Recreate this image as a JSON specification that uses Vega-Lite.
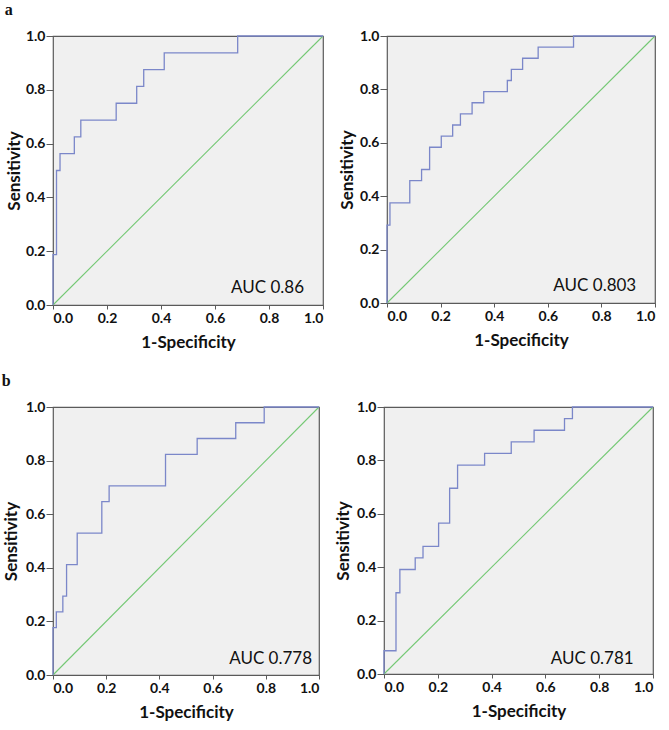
{
  "$schema": "https://vega.github.io/schema/vega-lite/v6.json",
  "padding": {"left": 1, "top": 2, "right": 2, "bottom": 2},
  "background": "white",
  "datasets": {
    "roc": [
      {"p":1,"i":0,"fpr":0,"tpr":0},{"p":1,"i":1,"fpr":0,"tpr":0.1875},{"p":1,"i":2,"fpr":0.013,"tpr":0.1875},{"p":1,"i":3,"fpr":0.013,"tpr":0.5},{"p":1,"i":4,"fpr":0.026,"tpr":0.5},{"p":1,"i":5,"fpr":0.026,"tpr":0.5625},{"p":1,"i":6,"fpr":0.079,"tpr":0.5625},{"p":1,"i":7,"fpr":0.079,"tpr":0.625},{"p":1,"i":8,"fpr":0.103,"tpr":0.625},{"p":1,"i":9,"fpr":0.103,"tpr":0.6875},{"p":1,"i":10,"fpr":0.234,"tpr":0.6875},{"p":1,"i":11,"fpr":0.234,"tpr":0.75},{"p":1,"i":12,"fpr":0.31,"tpr":0.75},{"p":1,"i":13,"fpr":0.31,"tpr":0.8125},{"p":1,"i":14,"fpr":0.336,"tpr":0.8125},{"p":1,"i":15,"fpr":0.336,"tpr":0.875},{"p":1,"i":16,"fpr":0.412,"tpr":0.875},{"p":1,"i":17,"fpr":0.412,"tpr":0.9375},{"p":1,"i":18,"fpr":0.684,"tpr":0.9375},{"p":1,"i":19,"fpr":0.684,"tpr":1},{"p":1,"i":20,"fpr":1,"tpr":1},
      {"p":2,"i":0,"fpr":0,"tpr":0},{"p":2,"i":1,"fpr":0,"tpr":0.2917},{"p":2,"i":2,"fpr":0.011,"tpr":0.2917},{"p":2,"i":3,"fpr":0.011,"tpr":0.375},{"p":2,"i":4,"fpr":0.085,"tpr":0.375},{"p":2,"i":5,"fpr":0.085,"tpr":0.4583},{"p":2,"i":6,"fpr":0.129,"tpr":0.4583},{"p":2,"i":7,"fpr":0.129,"tpr":0.5},{"p":2,"i":8,"fpr":0.159,"tpr":0.5},{"p":2,"i":9,"fpr":0.159,"tpr":0.5833},{"p":2,"i":10,"fpr":0.2025,"tpr":0.5833},{"p":2,"i":11,"fpr":0.2025,"tpr":0.625},{"p":2,"i":12,"fpr":0.245,"tpr":0.625},{"p":2,"i":13,"fpr":0.245,"tpr":0.6667},{"p":2,"i":14,"fpr":0.274,"tpr":0.6667},{"p":2,"i":15,"fpr":0.274,"tpr":0.7083},{"p":2,"i":16,"fpr":0.3175,"tpr":0.7083},{"p":2,"i":17,"fpr":0.3175,"tpr":0.75},{"p":2,"i":18,"fpr":0.361,"tpr":0.75},{"p":2,"i":19,"fpr":0.361,"tpr":0.7917},{"p":2,"i":20,"fpr":0.449,"tpr":0.7917},{"p":2,"i":21,"fpr":0.449,"tpr":0.8333},{"p":2,"i":22,"fpr":0.464,"tpr":0.8333},{"p":2,"i":23,"fpr":0.464,"tpr":0.875},{"p":2,"i":24,"fpr":0.506,"tpr":0.875},{"p":2,"i":25,"fpr":0.506,"tpr":0.9167},{"p":2,"i":26,"fpr":0.564,"tpr":0.9167},{"p":2,"i":27,"fpr":0.564,"tpr":0.9583},{"p":2,"i":28,"fpr":0.696,"tpr":0.9583},{"p":2,"i":29,"fpr":0.696,"tpr":1},{"p":2,"i":30,"fpr":1,"tpr":1},
      {"p":3,"i":0,"fpr":0,"tpr":0},{"p":3,"i":1,"fpr":0,"tpr":0.1765},{"p":3,"i":2,"fpr":0.0125,"tpr":0.1765},{"p":3,"i":3,"fpr":0.0125,"tpr":0.2353},{"p":3,"i":4,"fpr":0.037,"tpr":0.2353},{"p":3,"i":5,"fpr":0.037,"tpr":0.2941},{"p":3,"i":6,"fpr":0.051,"tpr":0.2941},{"p":3,"i":7,"fpr":0.051,"tpr":0.4118},{"p":3,"i":8,"fpr":0.091,"tpr":0.4118},{"p":3,"i":9,"fpr":0.091,"tpr":0.5294},{"p":3,"i":10,"fpr":0.1835,"tpr":0.5294},{"p":3,"i":11,"fpr":0.1835,"tpr":0.6471},{"p":3,"i":12,"fpr":0.211,"tpr":0.6471},{"p":3,"i":13,"fpr":0.211,"tpr":0.7059},{"p":3,"i":14,"fpr":0.423,"tpr":0.7059},{"p":3,"i":15,"fpr":0.423,"tpr":0.8235},{"p":3,"i":16,"fpr":0.542,"tpr":0.8235},{"p":3,"i":17,"fpr":0.542,"tpr":0.8824},{"p":3,"i":18,"fpr":0.687,"tpr":0.8824},{"p":3,"i":19,"fpr":0.687,"tpr":0.9412},{"p":3,"i":20,"fpr":0.794,"tpr":0.9412},{"p":3,"i":21,"fpr":0.794,"tpr":1},{"p":3,"i":22,"fpr":1,"tpr":1},
      {"p":4,"i":0,"fpr":0,"tpr":0},{"p":4,"i":1,"fpr":0,"tpr":0.087},{"p":4,"i":2,"fpr":0.0446,"tpr":0.087},{"p":4,"i":3,"fpr":0.0446,"tpr":0.3043},{"p":4,"i":4,"fpr":0.059,"tpr":0.3043},{"p":4,"i":5,"fpr":0.059,"tpr":0.3913},{"p":4,"i":6,"fpr":0.116,"tpr":0.3913},{"p":4,"i":7,"fpr":0.116,"tpr":0.4348},{"p":4,"i":8,"fpr":0.145,"tpr":0.4348},{"p":4,"i":9,"fpr":0.145,"tpr":0.4783},{"p":4,"i":10,"fpr":0.203,"tpr":0.4783},{"p":4,"i":11,"fpr":0.203,"tpr":0.5652},{"p":4,"i":12,"fpr":0.244,"tpr":0.5652},{"p":4,"i":13,"fpr":0.244,"tpr":0.6957},{"p":4,"i":14,"fpr":0.2735,"tpr":0.6957},{"p":4,"i":15,"fpr":0.2735,"tpr":0.7826},{"p":4,"i":16,"fpr":0.374,"tpr":0.7826},{"p":4,"i":17,"fpr":0.374,"tpr":0.8261},{"p":4,"i":18,"fpr":0.473,"tpr":0.8261},{"p":4,"i":19,"fpr":0.473,"tpr":0.8696},{"p":4,"i":20,"fpr":0.558,"tpr":0.8696},{"p":4,"i":21,"fpr":0.558,"tpr":0.913},{"p":4,"i":22,"fpr":0.671,"tpr":0.913},{"p":4,"i":23,"fpr":0.671,"tpr":0.9565},{"p":4,"i":24,"fpr":0.7005,"tpr":0.9565},{"p":4,"i":25,"fpr":0.7005,"tpr":1},{"p":4,"i":26,"fpr":1,"tpr":1}
    ],
    "diag": [{"fpr":0,"tpr":0},{"fpr":1,"tpr":1}],
    "auc": [
      {"p":1,"label":"AUC 0.86"},
      {"p":2,"label":"AUC 0.803"},
      {"p":3,"label":"AUC 0.778"},
      {"p":4,"label":"AUC 0.781"}
    ]
  },
  "config": {
    "view": {"fill": "#f0f0f0", "stroke": "#5a5a5a", "strokeWidth": 1.2},
    "axis": {
      "grid": false,
      "domain": false,
      "tickColor": "#5a5a5a",
      "labelFont": "Lato",
      "labelFontWeight": "bold",
      "labelFontSize": 14,
      "labelColor": "#111",
      "titleFont": "Lato",
      "titleFontWeight": "bold",
      "titleFontSize": 17,
      "titleColor": "#111"
    },
    "axisX": {"tickSize": 4, "labelPadding": 2, "titlePadding": 9},
    "axisY": {"tickSize": 7, "labelPadding": 1, "titlePadding": 2},
    "title": {"font": "Liberation Serif", "fontWeight": "bold", "fontSize": 16, "anchor": "start", "color": "#111", "offset": 10},
    "concat": {"spacing": 10}
  },
  "vconcat": [
    {
      "title": {"text": "a"},
      "spacing": 10,
      "hconcat": [
        {
          "width": 270, "height": 269,
          "layer": [
            {"data": {"name": "diag"}, "mark": {"type": "line", "color": "#74c874", "strokeWidth": 1.1}, "encoding": {"x": {"field": "fpr", "type": "quantitative"}, "y": {"field": "tpr", "type": "quantitative"}}},
            {"data": {"name": "roc"}, "transform": [{"filter": "datum.p == 1"}], "mark": {"type": "line", "color": "#7b87c9", "strokeWidth": 1.3}, "encoding": {"x": {"field": "fpr", "type": "quantitative", "scale": {"domain": [0, 1], "nice": false}, "axis": {"values": [0, 0.2, 0.4, 0.6, 0.8, 1], "format": ".1f", "title": "1-Specificity"}}, "y": {"field": "tpr", "type": "quantitative", "scale": {"domain": [0, 1], "nice": false}, "axis": {"values": [0, 0.2, 0.4, 0.6, 0.8, 1], "format": ".1f", "title": "Sensitivity"}}, "order": {"field": "i"}}},
            {"data": {"name": "auc"}, "transform": [{"filter": "datum.p == 1"}], "mark": {"type": "text", "align": "right", "baseline": "middle", "font": "Lato", "fontSize": 17, "color": "#111"}, "encoding": {"x": {"datum": 0.93, "type": "quantitative"}, "y": {"datum": 0.065, "type": "quantitative"}, "text": {"field": "label"}}}
          ]
        },
        {
          "width": 268, "height": 267,
          "layer": [
            {"data": {"name": "diag"}, "mark": {"type": "line", "color": "#74c874", "strokeWidth": 1.1}, "encoding": {"x": {"field": "fpr", "type": "quantitative"}, "y": {"field": "tpr", "type": "quantitative"}}},
            {"data": {"name": "roc"}, "transform": [{"filter": "datum.p == 2"}], "mark": {"type": "line", "color": "#7b87c9", "strokeWidth": 1.3}, "encoding": {"x": {"field": "fpr", "type": "quantitative", "scale": {"domain": [0, 1], "nice": false}, "axis": {"values": [0, 0.2, 0.4, 0.6, 0.8, 1], "format": ".1f", "title": "1-Specificity"}}, "y": {"field": "tpr", "type": "quantitative", "scale": {"domain": [0, 1], "nice": false}, "axis": {"values": [0, 0.2, 0.4, 0.6, 0.8, 1], "format": ".1f", "title": "Sensitivity", "titlePadding": 3}}, "order": {"field": "i"}}},
            {"data": {"name": "auc"}, "transform": [{"filter": "datum.p == 2"}], "mark": {"type": "text", "align": "right", "baseline": "middle", "font": "Lato", "fontSize": 17, "color": "#111"}, "encoding": {"x": {"datum": 0.93, "type": "quantitative"}, "y": {"datum": 0.065, "type": "quantitative"}, "text": {"field": "label"}}}
          ]
        }
      ]
    },
    {
      "title": {"text": "b"},
      "spacing": 10,
      "hconcat": [
        {
          "width": 266, "height": 268,
          "layer": [
            {"data": {"name": "diag"}, "mark": {"type": "line", "color": "#74c874", "strokeWidth": 1.1}, "encoding": {"x": {"field": "fpr", "type": "quantitative"}, "y": {"field": "tpr", "type": "quantitative"}}},
            {"data": {"name": "roc"}, "transform": [{"filter": "datum.p == 3"}], "mark": {"type": "line", "color": "#7b87c9", "strokeWidth": 1.3}, "encoding": {"x": {"field": "fpr", "type": "quantitative", "scale": {"domain": [0, 1], "nice": false}, "axis": {"values": [0, 0.2, 0.4, 0.6, 0.8, 1], "format": ".1f", "title": "1-Specificity"}}, "y": {"field": "tpr", "type": "quantitative", "scale": {"domain": [0, 1], "nice": false}, "axis": {"values": [0, 0.2, 0.4, 0.6, 0.8, 1], "format": ".1f", "title": "Sensitivity", "titlePadding": 5}}, "order": {"field": "i"}}},
            {"data": {"name": "auc"}, "transform": [{"filter": "datum.p == 3"}], "mark": {"type": "text", "align": "right", "baseline": "middle", "font": "Lato", "fontSize": 17, "color": "#111"}, "encoding": {"x": {"datum": 0.974, "type": "quantitative"}, "y": {"datum": 0.058, "type": "quantitative"}, "text": {"field": "label"}}}
          ]
        },
        {
          "width": 269, "height": 267,
          "layer": [
            {"data": {"name": "diag"}, "mark": {"type": "line", "color": "#74c874", "strokeWidth": 1.1}, "encoding": {"x": {"field": "fpr", "type": "quantitative"}, "y": {"field": "tpr", "type": "quantitative"}}},
            {"data": {"name": "roc"}, "transform": [{"filter": "datum.p == 4"}], "mark": {"type": "line", "color": "#7b87c9", "strokeWidth": 1.3}, "encoding": {"x": {"field": "fpr", "type": "quantitative", "scale": {"domain": [0, 1], "nice": false}, "axis": {"values": [0, 0.2, 0.4, 0.6, 0.8, 1], "format": ".1f", "title": "1-Specificity"}}, "y": {"field": "tpr", "type": "quantitative", "scale": {"domain": [0, 1], "nice": false}, "axis": {"values": [0, 0.2, 0.4, 0.6, 0.8, 1], "format": ".1f", "title": "Sensitivity", "titlePadding": 4}}, "order": {"field": "i"}}},
            {"data": {"name": "auc"}, "transform": [{"filter": "datum.p == 4"}], "mark": {"type": "text", "align": "right", "baseline": "middle", "font": "Lato", "fontSize": 17, "color": "#111"}, "encoding": {"x": {"datum": 0.928, "type": "quantitative"}, "y": {"datum": 0.058, "type": "quantitative"}, "text": {"field": "label"}}}
          ]
        }
      ]
    }
  ],
  "spacing": 22
}
